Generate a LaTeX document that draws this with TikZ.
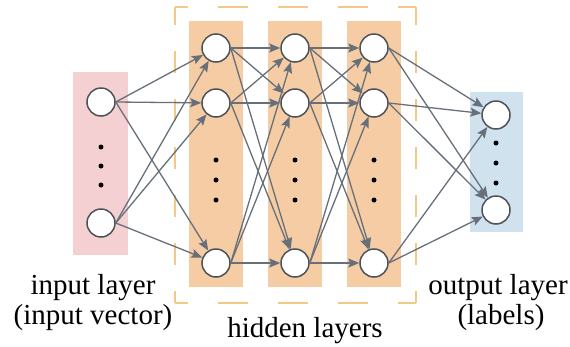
\documentclass[tikz,border=0pt]{standalone}
\usepackage{fontspec}
\setmainfont{Liberation Serif}
\usetikzlibrary{arrows.meta}
\definecolor{inpink}{HTML}{F4D0D2}
\definecolor{hidpeach}{HTML}{F5CCA4}
\definecolor{outblue}{HTML}{CFE2EE}
\definecolor{dashgold}{HTML}{F2C987}
\definecolor{edgegray}{HTML}{67707A}
\definecolor{ringgray}{HTML}{4D5257}
\tikzset{
  neuron/.style={circle, draw=ringgray, line width=1.5pt, fill=white,
    minimum size=28pt, inner sep=0pt},
  link/.style={draw=edgegray, line width=1.3pt,
    -{Stealth[length=11pt,width=9pt,inset=2pt]}},
  fence/.style={draw=dashgold, line width=1.6pt},
  dotmark/.style={fill=black},
  caption/.style={font=\fontsize{29}{30}\selectfont, anchor=base, inner sep=0pt}
}
\begin{document}
\begin{tikzpicture}[x=1pt,y=-1pt]
\useasboundingbox (0,0) rectangle (570,346);
% layer bands
\fill[inpink] (73,72) rectangle (128,255);
\fill[hidpeach] (189,21) rectangle (243,287);
\fill[hidpeach] (268,21) rectangle (322,287);
\fill[hidpeach] (347,21) rectangle (401,287);
\fill[outblue] (470,92) rectangle (523,232);
% dashed frame around the hidden layers, one side at a time
\draw[fence, dash pattern=on 30pt off 30pt, dash phase=17pt] (175,7) -- (416,7);
\draw[fence, dash pattern=on 30pt off 30pt, dash phase=17pt] (175,303) -- (416,303);
\draw[fence, dash pattern=on 22pt off 26pt, dash phase=4pt] (175,7) -- (175,303);
\draw[fence, dash pattern=on 22pt off 26pt, dash phase=4pt] (416,7) -- (416,303);
% neurons
\node[neuron] (i1) at (101,102) {};
\node[neuron] (i2) at (101,223) {};
\foreach \c/\x in {a/216,b/295,c/374}{
  \node[neuron] (\c1) at (\x,48) {};
  \node[neuron] (\c2) at (\x,103) {};
  \node[neuron] (\c3) at (\x,263) {};
}
\node[neuron] (o1) at (496,115) {};
\node[neuron] (o2) at (496,210) {};
% connections
\foreach \s in {1,2}{\foreach \t in {1,2,3}{\draw[link] (i\s.east) -- (a\t);}}
\foreach \s in {1,2,3}{\foreach \t in {1,2,3}{
  \draw[link] (a\s.east) -- (b\t);
  \draw[link] (b\s.east) -- (c\t);
}}
\foreach \s in {1,2,3}{\foreach \t in {1,2}{\draw[link] (c\s.east) -- (o\t);}}
% ellipsis dots
\foreach \y in {147,166,185}{\fill[dotmark] (101,\y) circle (2.5pt);}
\foreach \x in {216,295,374}{\foreach \y in {160,180,200}{\fill[dotmark] (\x,\y) circle (2.5pt);}}
\foreach \y in {143,163,183}{\fill[dotmark] (496,\y) circle (2.5pt);}
% captions
\node[caption] (inA) at (93,294) {input layer};
\node[caption] (inB) at (93,324) {(input vector)};
\node[caption] (hid) at (305,337) {hidden layers};
\node[caption] (outA) at (498,294) {output layer};
\node[caption] (outB) at (501,324) {(labels)};
\end{tikzpicture}
\end{document}
